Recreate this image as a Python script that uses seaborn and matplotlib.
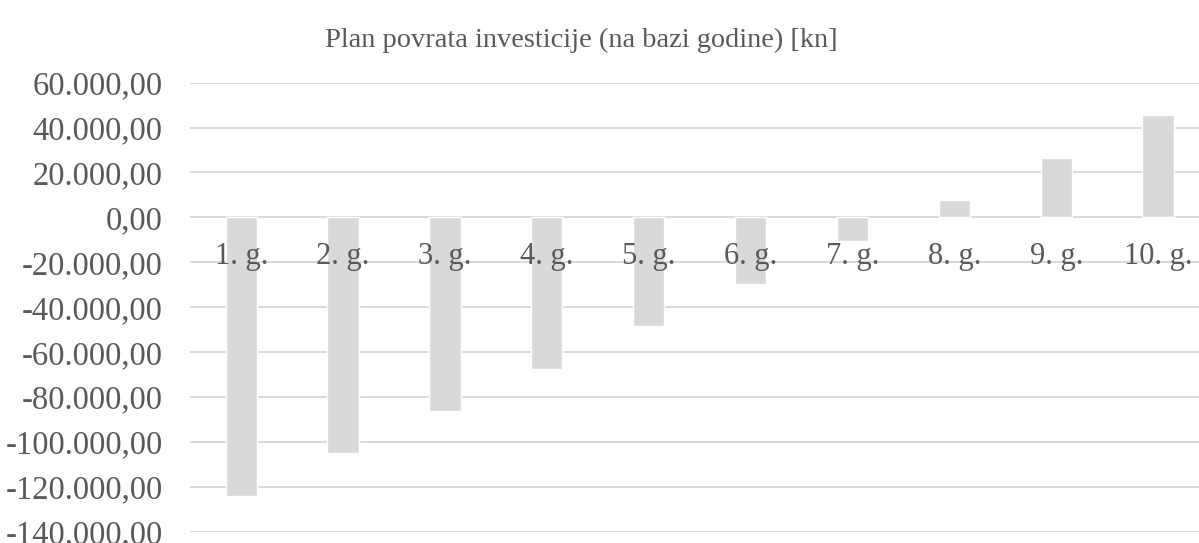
import matplotlib
matplotlib.use("Agg")
import matplotlib.pyplot as plt
from matplotlib.ticker import FuncFormatter
import seaborn as sns
import pandas as pd

# Cumulative return on investment per year [kn]
years = ["1. g.", "2. g.", "3. g.", "4. g.", "5. g.", "6. g.", "7. g.", "8. g.", "9. g.", "10. g."]
balance = [-124100, -105000, -86200, -67400, -48500, -29500, -10700, 7800, 26600, 45400]

title = "Plan povrata investicije (na bazi godine) [kn]"
y_ticks = list(range(-140000, 60001, 20000))

TEXT = "#595959"
GRID = "#d9d9d9"
BAR = "#d9d9d9"

sns.set_theme(style="white")
plt.rcParams["font.family"] = ["Liberation Serif", "DejaVu Serif"]

W, H = 1199, 543
fig = plt.figure(figsize=(W / 100, H / 100), dpi=100)
left, right, top, bottom = 190.3, 1209.0, 82.7, 531.7
ax = fig.add_axes([left / W, 1 - bottom / H, (right - left) / W, (bottom - top) / H])

df = pd.DataFrame({"year": years, "balance": balance})
sns.barplot(data=df, x="year", y="balance", color=BAR, saturation=1,
            width=0.307, ax=ax, zorder=1)

ax.set_ylim(-140000, 60000)
ax.set_xlim(-0.5, len(years) - 0.5)
ax.set_yticks(y_ticks)


def kn(v, _pos=None):
    s = f"{v:,.2f}"
    return s.replace(",", "X").replace(".", ",").replace("X", ".")


ax.yaxis.set_major_formatter(FuncFormatter(kn))
ax.grid(False)
# gridlines sit behind the bars, the year labels stay on top
for t in y_ticks:
    ax.axhline(t, color=GRID, linewidth=1.4, zorder=0.5)
ax.set_axisbelow(False)

for s in ["left", "right", "top", "bottom"]:
    ax.spines[s].set_visible(False)
ax.spines["bottom"].set_position(("data", 0))

ax.tick_params(axis="y", length=0, pad=20, labelsize=23.5, labelcolor=TEXT)
ax.tick_params(axis="x", length=0, pad=18, labelsize=22, labelcolor=TEXT)
ax.set_xlabel("")
ax.set_ylabel("")

fig.text(581 / W, 1 - 40 / H, title, ha="center", va="center",
         fontsize=20.4, color=TEXT)

fig.savefig("out.png", dpi=100)
